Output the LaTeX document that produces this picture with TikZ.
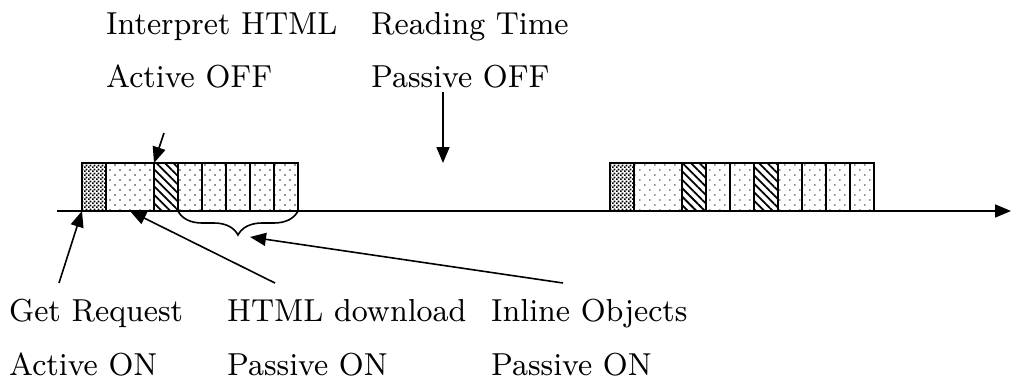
\documentclass[tikz,border=0pt]{standalone}
\usepackage{fontspec}
\setmainfont{lmroman8-regular.otf}[FakeStretch=0.946]
\usetikzlibrary{patterns.meta,decorations.pathreplacing,arrows.meta}
\tikzdeclarepattern{name=finechecker,type=uncolored,
  bounding box={(0pt,0pt) and (4pt,4pt)},tile size={(4pt,4pt)},
  code={\fill (0pt,0pt) rectangle (2pt,2pt); \fill (2pt,2pt) rectangle (4pt,4pt);}}
\tikzset{
  box/.style={draw, line width=1.6pt, minimum height=48pt, inner sep=0pt, outer sep=0pt, anchor=south west},
  chk/.style={box, minimum width=24pt, pattern=finechecker},
  dotw/.style={box, minimum width=48pt, pattern={Dots[distance=7.07pt, radius=0.8pt, angle=45]}},
  dotn/.style={box, minimum width=24pt, pattern={Dots[distance=7.07pt, radius=0.8pt, angle=45]}},
  hatch/.style={box, minimum width=24pt, pattern={Lines[angle=-45, distance=6pt, line width=1.8pt]}},
  lbl/.style={anchor=base west, inner sep=0pt, font=\fontsize{31.8}{38}\selectfont},
  arr/.style={line width=1.6pt, -{Triangle[length=16pt,width=13pt]}},
}
\begin{document}
\begin{tikzpicture}[x=1pt,y=-1pt]
\useasboundingbox (0,0) rectangle (1011,380);
% axis
\coordinate (ax0) at (57,211);
\coordinate (ax1) at (1011,211);
\draw[arr] (ax0) -- (ax1);
% group 1
\node[chk]   (a1) at (82,211) {};
\node[dotw]  (a2) at (106,211) {};
\node[hatch] (a3) at (154,211) {};
\node[dotn]  (a4) at (178,211) {};
\node[dotn]  (a5) at (202,211) {};
\node[dotn]  (a6) at (226,211) {};
\node[dotn]  (a7) at (250,211) {};
\node[dotn]  (a8) at (274,211) {};
% group 2
\node[chk]   (c1) at (610,211) {};
\node[dotw]  (c2) at (634,211) {};
\node[hatch] (c3) at (682,211) {};
\node[dotn]  (c4) at (706,211) {};
\node[dotn]  (c5) at (730,211) {};
\node[hatch] (c6) at (754,211) {};
\node[dotn]  (c7) at (778,211) {};
\node[dotn]  (c8) at (802,211) {};
\node[dotn]  (c9) at (826,211) {};
\node[dotn]  (c10) at (850,211) {};
% brace
\draw[line width=1.6pt, decorate, decoration={brace, mirror, amplitude=24pt}] (a4.south west) -- (a8.south east);
% labels
\node[lbl] (t1) at (106,34) {Interpret HTML};
\node[lbl] (t2) at (106,87) {Active OFF};
\node[lbl] (t3) at (371,34) {Reading Time};
\node[lbl] (t4) at (371,87) {Passive OFF};
\node[lbl] (b1) at (9,321) {Get Request};
\node[lbl] (b2) at (9,375) {Active ON};
\node[lbl] (b3) at (227,321) {HTML download};
\node[lbl] (b4) at (227,375) {Passive ON};
\node[lbl] (b5) at (491,321) {Inline Objects};
\node[lbl] (b6) at (491,375) {Passive ON};
% arrows
\coordinate (ih) at (164,133);
\draw[arr] (ih) -- (a3.north west);
\coordinate (rt) at (443,92);
\coordinate (rtt) at (443,163);
\draw[arr] (rt) -- (rtt);
\coordinate (gq) at (59,283);
\draw[arr] (gq) -- (a1.south west);
\coordinate (hd) at (275,283);
\draw[arr] (hd) -- (a2.south);
\coordinate (io) at (563,283);
\coordinate (iot) at (250,237);
\draw[arr] (io) -- (iot);
\end{tikzpicture}
\end{document}
